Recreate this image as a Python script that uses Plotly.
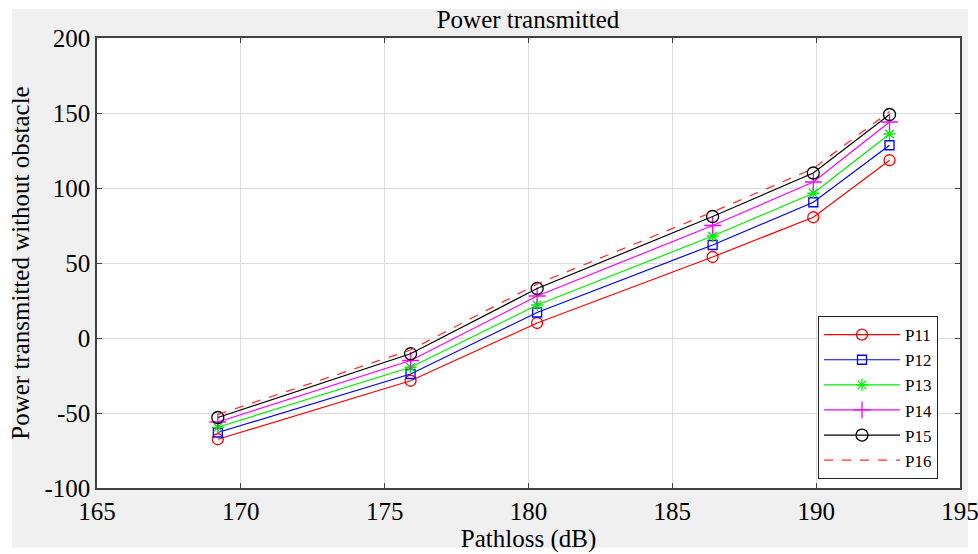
import plotly.graph_objects as go

pathloss = [169.2, 175.9, 180.3, 186.4, 189.9, 192.55]
p11 = [-67.5, -28.5, 10, 54, 80.5, 118.5]
p12 = [-63, -24, 17, 62, 90.5, 128.5]
p13 = [-59.5, -19.5, 22, 68, 96.5, 136]
p14 = [-56, -15, 28, 75, 104, 144]
p15 = [-53, -10.5, 33, 81, 110, 149]
p16 = [-51, -8, 36, 84, 113, 151]

x_ticks = [165, 170, 175, 180, 185, 190, 195]
y_ticks = [-100, -50, 0, 50, 100, 150, 200]
y_ticklabels = ["-100", "-50", "0", "50", "100", "150", "200"]

names = ["P11", "P12", "P13", "P14", "P15", "P16"]
series = [p11, p12, p13, p14, p15, p16]
colors = ["#ff0000", "#0000ff", "#00ee00", "#ff00ff", "#000000", "#ff3030"]
symbols = ["circle-open", "square-open", "asterisk-open", "cross-thin-open", "circle-open", None]
msizes = [11, 9, 10, 12, 12, 0]

FONT = "Liberation Serif"

fig = go.Figure()
for n, s, c, sym, ms in zip(names, series, colors, symbols, msizes):
    if sym is None:
        fig.add_trace(go.Scatter(x=pathloss, y=s, name=n, mode="lines",
                                 line=dict(color=c, width=1.3, dash="dash")))
    else:
        fig.add_trace(go.Scatter(x=pathloss, y=s, name=n, mode="lines+markers",
                                 line=dict(color=c, width=1.2),
                                 marker=dict(symbol=sym, size=ms, color=c,
                                             line=dict(color=c, width=1.3))))

# grey figure panel, then white plot area on top of it
fig.add_shape(type="rect", xref="paper", yref="paper",
              x0=-0.0984, x1=1.0093, y0=-0.1325, y1=1.0637,
              fillcolor="#f0f0f0", line=dict(width=0), layer="below")
fig.add_shape(type="rect", xref="paper", yref="paper",
              x0=0, x1=1, y0=0, y1=1,
              fillcolor="white", line=dict(width=0), layer="below")

fig.update_layout(
    width=978, height=554,
    margin=dict(l=97, r=18, t=38, b=66, autoexpand=False),
    paper_bgcolor="white", plot_bgcolor="white",
    font=dict(family=FONT, size=25, color="black"),
    title=dict(text="Power transmitted", x=(528 / 978), xanchor="center",
               y=1 - 28 / 554, yanchor="bottom", font=dict(size=25, family=FONT, color="black")),
    legend=dict(x=0.9745, y=0.382, xanchor="right", yanchor="top",
                bgcolor="white", bordercolor="#222222", borderwidth=1,
                font=dict(size=17, family=FONT), itemwidth=76,
                tracegroupgap=0),
    showlegend=True,
)
fig.update_xaxes(range=[165, 195], tickvals=x_ticks, automargin=False,
                 showgrid=True, gridcolor="#dcdcdc", gridwidth=1,
                 showline=True, linecolor="#404040", linewidth=1.5, mirror="ticks",
                 ticks="inside", ticklen=5, tickcolor="#404040",
                 zeroline=False, ticklabeloverflow="allow",
                 title=dict(text="Pathloss (dB)", standoff=4,
                            font=dict(size=25, family=FONT)),
                 tickfont=dict(size=25, family=FONT))
fig.update_yaxes(range=[-100, 200], tickvals=y_ticks, ticktext=y_ticklabels, automargin=False,
                 showgrid=True, gridcolor="#dcdcdc", gridwidth=1,
                 showline=True, linecolor="#404040", linewidth=1.5, mirror="ticks",
                 ticks="inside", ticklen=5, tickcolor="#404040",
                 zeroline=False, ticklabeloverflow="allow",
                 title=dict(text="Power transmitted without obstacle", standoff=8,
                            font=dict(size=25, family=FONT)),
                 tickfont=dict(size=25, family=FONT))

fig.write_html("out.html")
